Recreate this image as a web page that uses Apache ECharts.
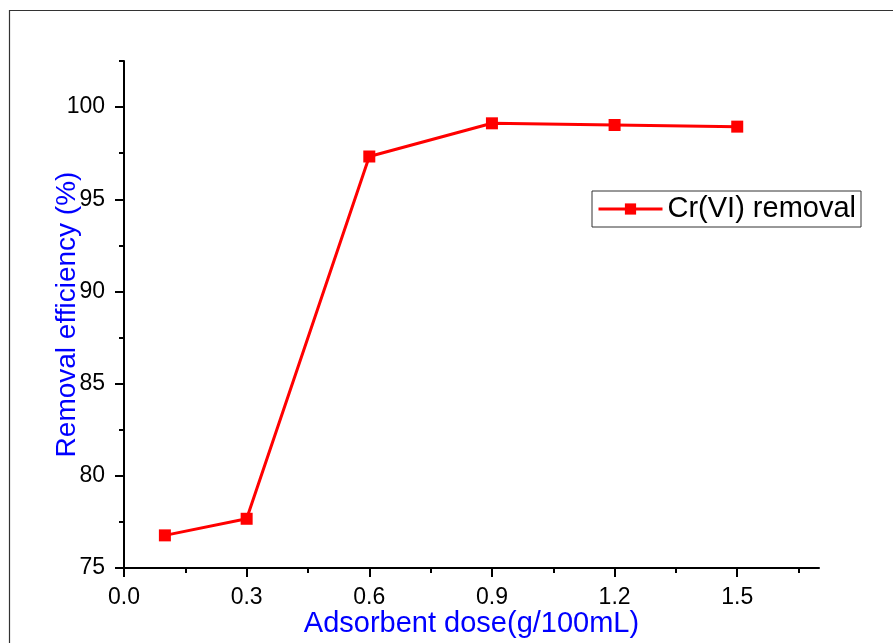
<!DOCTYPE html>
<html>
<head>
<meta charset="utf-8">
<script src="https://cdn.jsdelivr.net/npm/echarts@6/dist/echarts.min.js"></script>
<style>
  html, body { margin: 0; padding: 0; background: #fff; }
  #chart { width: 893px; height: 643px; }
</style>
</head>
<body>
<div id="chart"></div>
<script>
// Adsorbent dose (g/100mL) and Cr(VI) removal efficiency (%)
const doses = [0.1, 0.3, 0.6, 0.9, 1.2, 1.5];
const removal = [76.77, 77.67, 97.32, 99.12, 99.03, 98.94];

// Axis ticks
const xMajorTicks = [0.0, 0.3, 0.6, 0.9, 1.2, 1.5];
const xMinorTicks = [0.15, 0.45, 0.75, 1.05, 1.35, 1.65];
const yMajorTicks = [75, 80, 85, 90, 95, 100];
const yMinorTicks = [77.5, 82.5, 87.5, 92.5, 97.5, 102.5];

const seriesName = 'Cr(VI) removal';
const xTitle = 'Adsorbent dose(g/100mL)';
const yTitle = 'Removal efficiency (%)';

const FONT = '"Liberation Sans", Arial, sans-serif';
const chart = echarts.init(document.getElementById('chart'), null, { renderer: 'canvas' });

const grid = { left: 124, right: 74, top: 61, bottom: 73 };

chart.setOption({
  animation: false,
  backgroundColor: '#ffffff',
  textStyle: { fontFamily: FONT },
  grid: grid,
  graphic: [{
    type: 'rect',
    shape: { x: 9.5, y: 10.5, width: 900, height: 660 },
    style: { fill: 'none', stroke: '#333333', lineWidth: 1.2 },
    silent: true,
    z: -1
  }],
  legend: {
    left: 592,
    top: 191,
    orient: 'horizontal',
    itemWidth: 64,
    itemHeight: 14,
    itemGap: 8,
    padding: [3, 5, 3, 5],
    borderColor: '#333333',
    borderWidth: 1,
    lineStyle: { width: 3 },
    textStyle: { fontSize: 29, color: '#000', fontFamily: FONT, lineHeight: 30 },
    data: [seriesName]
  },
  xAxis: [{
    type: 'value',
    min: 0,
    max: 1.7,
    interval: 0.3,
    name: xTitle,
    nameLocation: 'middle',
    nameGap: 41,
    nameMoveOverlap: false,
    nameTextStyle: { color: '#0000ff', fontSize: 29, fontFamily: FONT },
    axisLine: { show: true, onZero: false, lineStyle: { color: '#000', width: 2 } },
    axisTick: { show: true, inside: false, length: 9, lineStyle: { color: '#000', width: 2 }, customValues: xMajorTicks },
    axisLabel: {
      show: true, margin: 18, fontSize: 23, color: '#000', fontFamily: FONT,
      customValues: xMajorTicks,
      formatter: v => Number(v).toFixed(1)
    },
    splitLine: { show: false }
  }, {
    type: 'value',
    min: 0,
    max: 1.7,
    position: 'bottom',
    axisLine: { show: false },
    axisTick: { show: true, inside: false, length: 5, lineStyle: { color: '#000', width: 2 }, customValues: xMinorTicks },
    axisLabel: { show: false },
    splitLine: { show: false }
  }],
  yAxis: [{
    type: 'value',
    min: 75,
    max: 102.5,
    interval: 5,
    name: yTitle,
    nameLocation: 'middle',
    nameGap: 43,
    nameMoveOverlap: false,
    nameTextStyle: { color: '#0000ff', fontSize: 28, fontFamily: FONT },
    axisLine: { show: true, onZero: false, lineStyle: { color: '#000', width: 2 } },
    axisTick: { show: true, inside: false, length: 9, lineStyle: { color: '#000', width: 2 }, customValues: yMajorTicks },
    axisLabel: {
      show: true, margin: 19, fontSize: 23, color: '#000', fontFamily: FONT,
      customValues: yMajorTicks
    },
    splitLine: { show: false }
  }, {
    type: 'value',
    min: 75,
    max: 102.5,
    position: 'left',
    axisLine: { show: false },
    axisTick: { show: true, inside: false, length: 5, lineStyle: { color: '#000', width: 2 }, customValues: yMinorTicks },
    axisLabel: { show: false },
    splitLine: { show: false }
  }],
  series: [{
    name: seriesName,
    type: 'line',
    xAxisIndex: 0,
    yAxisIndex: 0,
    data: doses.map((d, i) => [d, removal[i]]),
    symbol: 'rect',
    symbolSize: 12,
    showAllSymbol: true,
    lineStyle: { color: '#ff0000', width: 3 },
    itemStyle: { color: '#ff0000', borderWidth: 0 },
    emphasis: { disabled: true }
  }]
});
</script>
</body>
</html>
